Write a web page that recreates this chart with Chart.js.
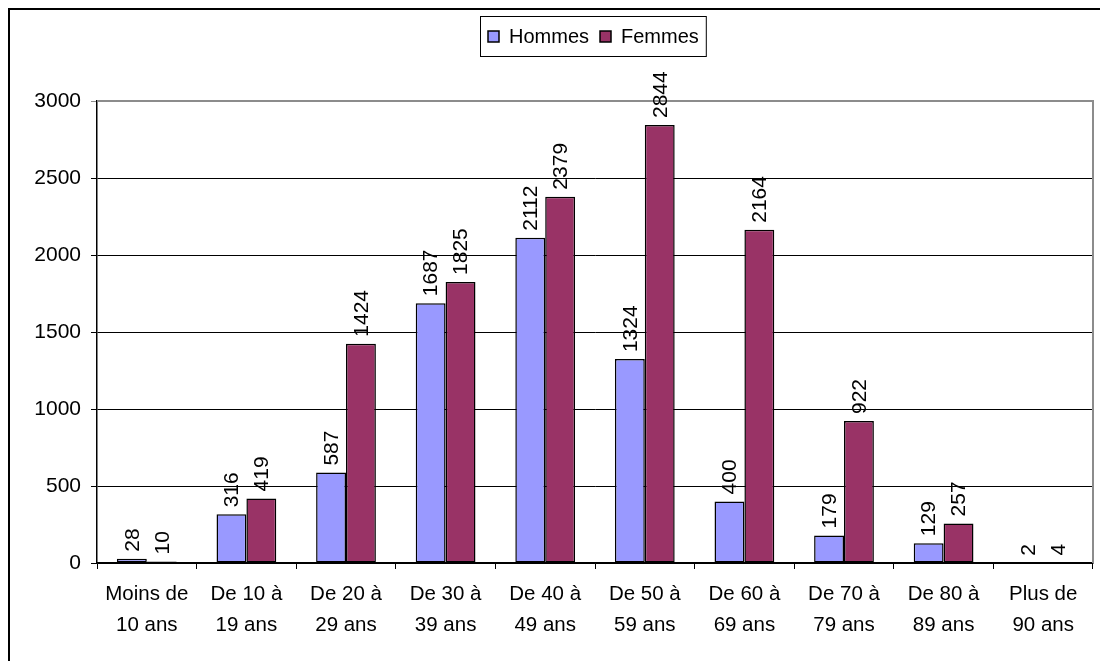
<!DOCTYPE html>
<html>
<head>
<meta charset="utf-8">
<script src="https://cdn.jsdelivr.net/npm/chart.js@4.4.1/dist/chart.umd.min.js"></script>
<style>
html,body{margin:0;padding:0;background:#fff;}
#wrap{position:absolute;left:0;top:0;width:1100px;height:661px;}
</style>
</head>
<body>
<div id="wrap"><canvas id="c" width="1100" height="661"></canvas></div>
<script>
const categories = [
  ["Moins de","10 ans"],["De 10 à","19 ans"],["De 20 à","29 ans"],["De 30 à","39 ans"],
  ["De 40 à","49 ans"],["De 50 à","59 ans"],["De 60 à","69 ans"],["De 70 à","79 ans"],
  ["De 80 à","89 ans"],["Plus de","90 ans"]
];
const hommes = [28, 316, 587, 1687, 2112, 1324, 400, 179, 129, 2];
const femmes = [10, 419, 1424, 1825, 2379, 2844, 2164, 922, 257, 4];
const seriesNames = ["Hommes", "Femmes"];
const yTicks = [0, 500, 1000, 1500, 2000, 2500, 3000];

const FONT = "Liberation Sans, Arial, sans-serif";
const FS = 21;

const decor = {
  id: 'decor',
  beforeDatasetsDraw(chart) {
    const {ctx, chartArea: a} = chart;
    ctx.save();
    ctx.strokeStyle = '#8c8c8c';
    ctx.lineWidth = 2;
    ctx.beginPath();
    ctx.moveTo(a.left, a.top);
    ctx.lineTo(a.right, a.top);
    ctx.lineTo(a.right, a.bottom);
    ctx.stroke();
    ctx.restore();
  },
  afterDatasetsDraw(chart) {
    const {ctx} = chart;
    ctx.save();
    ctx.font = FS + "px " + FONT;
    ctx.fillStyle = '#000';
    ctx.textAlign = 'left';
    ctx.textBaseline = 'middle';
    chart.data.datasets.forEach((ds, di) => {
      const meta = chart.getDatasetMeta(di);
      meta.data.forEach((el, i) => {
        ctx.save();
        ctx.translate(el.x, el.y - 7);
        ctx.rotate(-Math.PI / 2);
        ctx.fillText(String(ds.data[i]), 0, 1);
        ctx.restore();
      });
    });
    // legend
    ctx.font = "20px " + FONT;
    const sq = 11, padL = 8, gap1 = 10, gap2 = 11, padR = 7;
    const widths = chart.data.datasets.map(d => ctx.measureText(d.label).width);
    let total = padL + padR;
    widths.forEach((w, i) => { total += sq + gap1 + w + (i < widths.length - 1 ? gap2 : 0); });
    const cx = 593, top = 16, h = 40;
    let x = Math.round(cx - total / 2);
    ctx.strokeStyle = '#000';
    ctx.lineWidth = 1;
    ctx.strokeRect(x + 0.5, top + 0.5, total, h);
    let xx = x + padL;
    const midY = top + h / 2 + 0.5;
    chart.data.datasets.forEach((d, i) => {
      ctx.fillStyle = d.backgroundColor;
      ctx.fillRect(xx, midY - sq / 2, sq, sq);
      ctx.strokeStyle = '#000';
      ctx.lineWidth = 1.5;
      ctx.strokeRect(xx, midY - sq / 2, sq, sq);
      ctx.fillStyle = '#000';
      ctx.textBaseline = 'middle';
      ctx.fillText(d.label, xx + sq + gap1, midY + 1);
      xx += sq + gap1 + widths[i] + gap2;
    });
    // outer border
    ctx.strokeStyle = '#000';
    ctx.lineWidth = 2;
    ctx.beginPath();
    ctx.moveTo(9, 661);
    ctx.lineTo(9, 9);
    ctx.lineTo(1100, 9);
    ctx.stroke();
    ctx.restore();
  }
};

new Chart(document.getElementById('c'), {
  type: 'bar',
  data: {
    labels: categories,
    datasets: [
      { label: seriesNames[0], data: hommes, backgroundColor: '#9999ff', borderColor: '#000', borderWidth: 1.5, borderSkipped: false },
      { label: seriesNames[1], data: femmes, backgroundColor: '#993366', borderColor: '#000', borderWidth: 1.5, borderSkipped: false }
    ]
  },
  options: {
    responsive: false,
    animation: false,
    devicePixelRatio: 1,
    categoryPercentage: 0.6,
    barPercentage: 1.0,
    layout: { padding: { top: 101, right: 7, bottom: 0, left: 0 } },
    plugins: { legend: { display: false }, tooltip: { enabled: false } },
    scales: {
      x: {
        grid: { drawOnChartArea: false, drawTicks: true, tickLength: 6, color: '#000', lineWidth: 1 },
        border: { color: '#000', width: 1.5 },
        ticks: { color: '#000', font: { family: FONT, size: 20.5, lineHeight: 1.5 }, padding: 10, maxRotation: 0, autoSkip: false },
        afterFit(s) { s.height = 98; }
      },
      y: {
        min: 0, max: 3000,
        afterBuildTicks(s) { s.ticks = yTicks.map(v => ({ value: v })); },
        grid: { color: c => (c.tick && c.tick.value === 3000) ? '#8c8c8c' : '#000', lineWidth: 1, tickLength: 6 },
        border: { color: '#000', width: 1.5 },
        ticks: { color: '#000', font: { family: FONT, size: FS }, padding: 10, callback: v => String(v) },
        afterFit(s) { s.width = 97; }
      }
    }
  },
  plugins: [decor]
});
</script>
</body>
</html>
